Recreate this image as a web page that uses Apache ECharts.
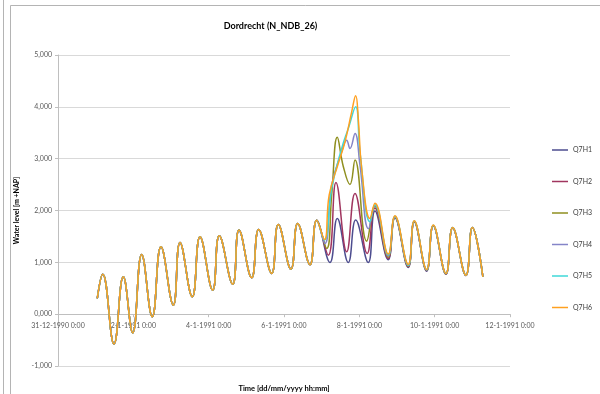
<!DOCTYPE html>
<html><head><meta charset="utf-8">
<script src="https://cdn.jsdelivr.net/npm/echarts@6/dist/echarts.min.js"></script>
<style>html,body{margin:0;padding:0;background:#fff}#c{width:600px;height:394px}</style>
</head><body><div id="c"></div>
<script>
// Series names and colours
const seriesNames = ['Q7H1', 'Q7H2', 'Q7H3', 'Q7H4', 'Q7H5', 'Q7H6'];
const seriesColors = ['#4d4d8f', '#a0355f', '#8f8f1f', '#8585c8', '#3fd8d8', '#ffa020'];
// X tick labels (every 2 days from 31-12-1990 0:00), time in days since then
const xTickLabels = ['31-12-1990 0:00', '2-1-1991 0:00', '4-1-1991 0:00', '6-1-1991 0:00', '8-1-1991 0:00', '10-1-1991 0:00', '12-1-1991 0:00'];

// Shared part (all scenarios equal before the storm), days / m +NAP
const commonTime  = [1.043, 1.187, 1.487, 1.733, 1.983, 2.222, 2.503, 2.734, 3.061, 3.239, 3.565, 3.770, 4.107, 4.282, 4.638, 4.805, 5.142, 5.328, 5.673, 5.848, 6.185, 6.363, 6.690, 6.868];
const commonLevel = [0.303, 0.770, -0.575, 0.720, -0.361, 1.152, -0.052, 1.299, 0.174, 1.384, 0.334, 1.492, 0.463, 1.512, 0.579, 1.622, 0.701, 1.635, 0.786, 1.732, 0.869, 1.751, 0.955, 1.810];

const q7h1Time  = [7.221, 7.415, 7.707, 7.903, 8.237, 8.415, 8.768, 8.946, 9.299, 9.459, 9.788, 9.963, 10.300, 10.478, 10.830, 11.000, 11.280];
const q7h1Level = [0.998, 1.847, 0.998, 1.815, 0.998, 1.990, 1.050, 1.860, 0.900, 1.780, 0.830, 1.700, 0.770, 1.660, 0.745, 1.670, 0.720];

const q7h2Time  = [7.176, 7.380, 7.664, 7.885, 8.211, 8.415, 8.768, 8.946, 9.299, 9.459, 9.788, 9.963, 10.300, 10.478, 10.830, 11.000, 11.280];
const q7h2Level = [1.139, 2.540, 1.203, 2.330, 1.172, 2.050, 1.075, 1.870, 0.915, 1.785, 0.840, 1.705, 0.775, 1.665, 0.748, 1.672, 0.722];

const q7h3Time  = [7.133, 7.266, 7.415, 7.574, 7.752, 7.885, 8.195, 8.415, 8.768, 8.946, 9.299, 9.459, 9.788, 9.963, 10.300, 10.478, 10.830, 11.000, 11.280];
const q7h3Level = [1.268, 2.300, 3.411, 2.850, 2.500, 2.973, 1.409, 2.080, 1.100, 1.875, 0.925, 1.790, 0.845, 1.710, 0.780, 1.668, 0.750, 1.672, 0.722];

const q7h4Time  = [7.088, 7.266, 7.531, 7.664, 7.752, 7.885, 8.017, 8.243, 8.415, 8.768, 8.946, 9.299, 9.459, 9.788, 9.963, 10.300, 10.478, 10.830, 11.000, 11.280];
const q7h4Level = [1.364, 2.489, 3.131, 3.357, 3.197, 3.486, 2.875, 1.650, 2.100, 1.125, 1.880, 0.935, 1.795, 0.850, 1.712, 0.782, 1.670, 0.751, 1.673, 0.722];

const q7h5Time  = [7.075, 7.266, 7.531, 7.707, 7.903, 8.017, 8.283, 8.415, 8.768, 8.946, 9.299, 9.459, 9.788, 9.963, 10.300, 10.478, 10.830, 11.000, 11.280];
const q7h5Level = [1.430, 2.425, 3.197, 3.583, 4.002, 3.131, 1.782, 2.110, 1.145, 1.890, 0.945, 1.798, 0.858, 1.715, 0.784, 1.672, 0.752, 1.673, 0.721];

const q7h6Time  = [7.075, 7.200, 7.441, 7.619, 7.797, 7.903, 7.972, 8.062, 8.283, 8.415, 8.768, 8.946, 9.299, 9.459, 9.788, 9.963, 10.300, 10.478, 10.830, 11.000, 11.280];
const q7h6Level = [1.440, 2.300, 2.907, 3.325, 3.903, 4.214, 3.775, 2.811, 1.846, 2.140, 1.160, 1.900, 0.960, 1.801, 0.863, 1.718, 0.786, 1.674, 0.753, 1.674, 0.720];

const ownTimes  = [q7h1Time, q7h2Time, q7h3Time, q7h4Time, q7h5Time, q7h6Time];
const ownLevels = [q7h1Level, q7h2Level, q7h3Level, q7h4Level, q7h5Level, q7h6Level];

const FONT = 'Lato, "Liberation Sans", sans-serif';

const series = seriesNames.map((name, i) => {
  const t = commonTime.concat(ownTimes[i]);
  const v = commonLevel.concat(ownLevels[i]);
  return {
    name: name,
    type: 'line',
    data: t.map((x, k) => [x, v[k]]),
    symbol: 'none',
    smooth: 0.45,
    lineStyle: { width: 1.5, color: seriesColors[i] },
    itemStyle: { color: seriesColors[i] },
    z: 2 + i
  };
});

const chart = echarts.init(document.getElementById('c'));
chart.setOption({
  animation: false,
  backgroundColor: '#fff',
  title: {
    text: 'Dordrecht (N_NDB_26)',
    left: 265.5, top: 17, textAlign: 'center',
    textStyle: { fontFamily: FONT, fontSize: 9, fontWeight: 'bold', color: '#000' }
  },
  graphic: [
    { type: 'line', shape: { x1: 3.5, y1: 0, x2: 3.5, y2: 394 }, style: { stroke: '#b4b4b4', lineWidth: 1 } },
    { type: 'rect', shape: { x: 10.5, y: 5.5, width: 700, height: 500 }, style: { fill: 'none', stroke: '#b4b4b4', lineWidth: 1 } }
  ],
  legend: {
    orient: 'vertical', left: 547, top: 140,
    icon: 'rect', itemWidth: 16, itemHeight: 1.5, itemGap: 21.5,
    textStyle: { fontFamily: FONT, fontSize: 7, color: '#404040', lineHeight: 10 },
    data: seriesNames
  },
  grid: { left: 58, right: 90, top: 55, bottom: 28, containLabel: false, outerBoundsMode: 'none' },
  xAxis: {
    type: 'value', min: 0, max: 12, interval: 2,
    position: 'bottom', offset: -51.8,
    name: 'Time [dd/mm/yyyy hh:mm]', nameLocation: 'middle', nameGap: 70,
    nameTextStyle: { fontFamily: FONT, fontSize: 7.5, fontWeight: 'bold', color: '#000' },
    axisLine: { onZero: false, lineStyle: { color: '#bfbfbf', width: 1 } },
    axisTick: { show: true, length: 3, lineStyle: { color: '#bfbfbf' } },
    axisLabel: {
      fontFamily: FONT, fontSize: 7, color: '#595959', margin: 8,
      formatter: v => xTickLabels[Math.round(v / 2)]
    },
    splitLine: { show: false }
  },
  yAxis: {
    type: 'value', min: -1, max: 5, interval: 1,
    name: 'Water level [m +NAP]', nameLocation: 'middle', nameGap: 37, nameRotate: 90,
    nameTextStyle: { fontFamily: FONT, fontSize: 7, fontWeight: 'bold', color: '#000' },
    axisLine: { show: true, lineStyle: { color: '#bfbfbf', width: 1 } },
    axisTick: { show: true, length: 3, lineStyle: { color: '#bfbfbf' } },
    axisLabel: {
      fontFamily: FONT, fontSize: 7, color: '#595959', margin: 6,
      formatter: v => v.toFixed(3).replace('.', ',')
    },
    splitLine: { show: true, lineStyle: { color: '#d9d9d9', width: 1 } }
  },
  series: series
});
</script>
</body></html>
